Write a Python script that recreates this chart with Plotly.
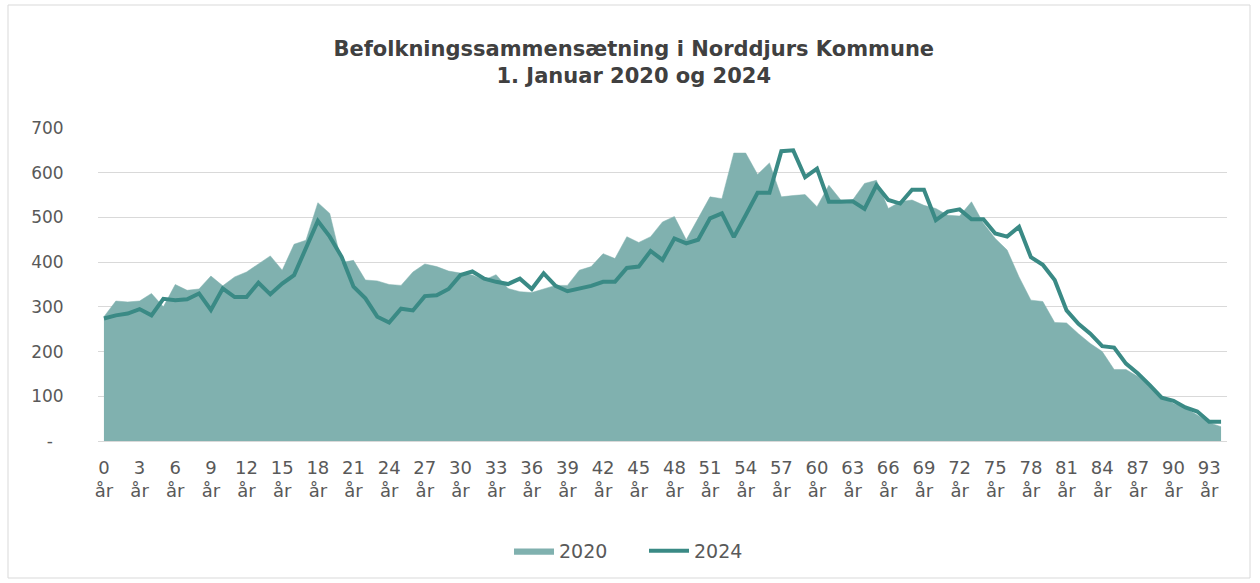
import plotly.graph_objects as go

ages = list(range(0, 95))
tick_ages = list(range(0, 94, 3))
tick_labels = [f"{a}<br>år" for a in tick_ages]

pop_2020 = [278, 313, 311, 313, 330, 300, 350, 337, 340, 369,
            347, 367, 378, 397, 414, 382, 440, 449, 533, 509,
            399, 404, 360, 358, 350, 348, 378, 396, 390, 380,
            375, 371, 360, 372, 341, 334, 332, 340, 348, 348,
            382, 390, 419, 408, 457, 444, 457, 490, 502, 450,
            498, 546, 542, 644, 644, 596, 622, 546, 549, 551,
            524, 572, 539, 539, 576, 583, 520, 535, 539, 527,
            520, 505, 503, 535, 487, 453, 427, 367, 315, 312,
            265, 264, 240, 218, 200, 160, 160, 144, 122, 99,
            84, 73, 58, 41, 32]

pop_2024 = [274, 281, 285, 295, 281, 318, 315, 317, 330, 293,
            341, 322, 322, 354, 328, 352, 371, 430, 492, 457,
            412, 345, 319, 278, 265, 296, 292, 324, 326, 340,
            371, 379, 363, 356, 351, 363, 340, 375, 347, 335,
            340, 347, 356, 356, 387, 390, 425, 405, 453, 442,
            450, 498, 509, 456, 505, 555, 555, 648, 650, 590,
            609, 535, 535, 536, 519, 572, 539, 531, 562, 562,
            494, 513, 518, 496, 496, 464, 457, 479, 411, 394,
            360, 292, 262, 240, 212, 209, 173, 151, 125, 97,
            90, 75, 66, 43, 43]

y_ticks = [0, 100, 200, 300, 400, 500, 600, 700]
y_tick_labels = ["-\u00a0\u00a0", "100", "200", "300", "400", "500", "600", "700"]

FILL = "#80B1AF"
LINE = "#3A8A85"
GREY = "#595959"
FONT = "DejaVu Sans"

fig = go.Figure()
fig.add_trace(go.Scatter(
    x=ages, y=pop_2020, name="2020", mode="lines",
    fill="tozeroy", fillcolor=FILL, line=dict(color=FILL, width=0.5),
))
fig.add_trace(go.Scatter(
    x=ages, y=pop_2024, name="2024", mode="lines",
    line=dict(color=LINE, width=4),
))

W, H = 1260, 583
L, R, T, B = 98, 33, 128, 142
pw = W - L - R
ph = H - T - B

fig.update_layout(
    width=W, height=H,
    margin=dict(l=L, r=R, t=T, b=B, autoexpand=False),
    paper_bgcolor="white", plot_bgcolor="white",
    font=dict(family=FONT, color=GREY, size=17),
    title=dict(
        text="<b>Befolkningssammensætning i Norddjurs Kommune<br>1. Januar 2020 og 2024</b>",
        x=0.503, xref="container", xanchor="center",
        y=1 - 56 / H, yref="container", yanchor="top",
        font=dict(family=FONT, size=21, color="#404040"),
    ),
    xaxis=dict(
        range=[-0.5, 94.5], tickmode="array", tickvals=tick_ages, ticktext=tick_labels,
        showgrid=False, zeroline=False, showline=True, linecolor="#D9D9D9", linewidth=1,
        ticks="outside", ticklen=10, tickcolor="rgba(0,0,0,0)",
        tickfont=dict(size=18, color=GREY), fixedrange=True,
    ),
    yaxis=dict(
        range=[0, 700], tickmode="array", tickvals=y_ticks, ticktext=y_tick_labels,
        showgrid=True, gridcolor="#D9D9D9", gridwidth=1, zeroline=False,
        showline=False, ticks="outside", ticklen=30, tickcolor="rgba(0,0,0,0)",
        tickfont=dict(size=17, color=GREY), fixedrange=True,
    ),
    legend=dict(
        orientation="h", x=(644 - L) / pw, xanchor="center",
        y=(H - B - 551) / ph, yanchor="middle",
        font=dict(size=19, color=GREY), itemwidth=40,
        entrywidth=80, entrywidthmode="pixels",
        traceorder="normal",
    ),
    showlegend=True,
    shapes=[dict(
        type="rect", xref="paper", yref="paper",
        x0=(8 - L) / pw, x1=(1250 - L) / pw,
        y0=(H - B - 578) / ph, y1=(H - B - 5) / ph,
        line=dict(color="#D9D9D9", width=1), fillcolor="rgba(0,0,0,0)",
        layer="below",
    )],
)

fig.write_html(
    "out.html",
    config={"displayModeBar": False},
    post_script="document.body.style.margin='0';document.body.style.padding='0';",
)
